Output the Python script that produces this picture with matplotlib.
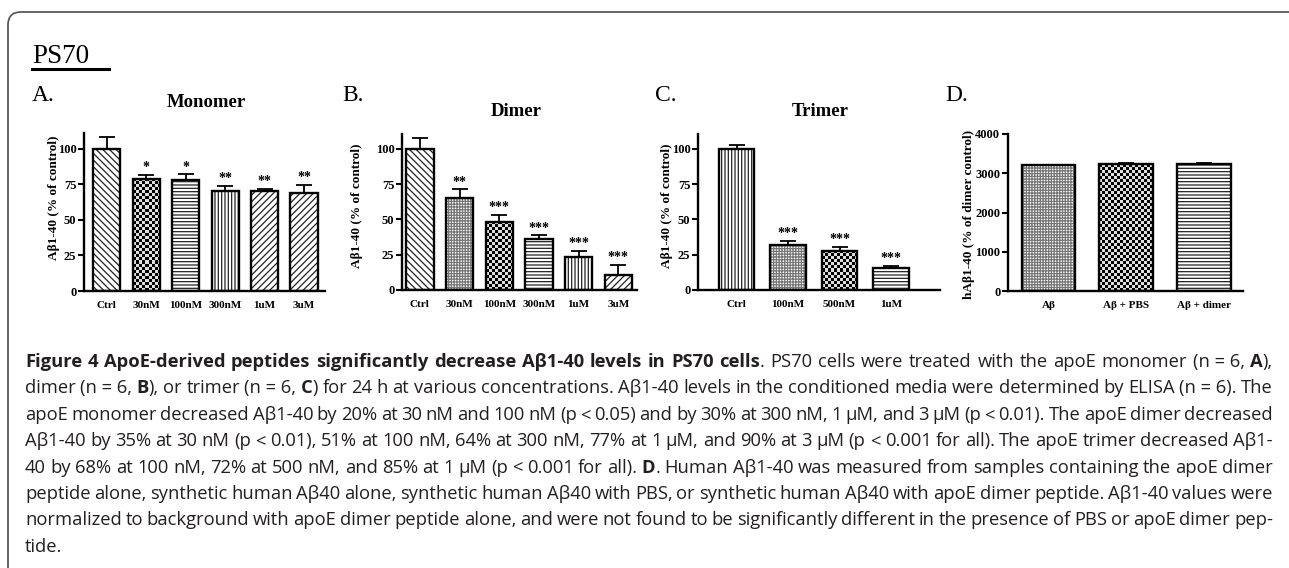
import numpy as np
import matplotlib
matplotlib.use("Agg")
import matplotlib.pyplot as plt
from matplotlib.patches import FancyBboxPatch
from matplotlib.lines import Line2D
from matplotlib.transforms import IdentityTransform

plt.rcParams["font.family"] = "Liberation Serif"
plt.rcParams["font.weight"] = "bold"
plt.rcParams["hatch.linewidth"] = 0.9

# ---- data ----
mono_labels = ["Ctrl", "30nM", "100nM", "300nM", "1uM", "3uM"]
mono_vals = [100, 79, 78, 70, 70, 69]
mono_err = [8, 2.5, 4, 4, 2, 5.5]
mono_stars = ["", "*", "*", "**", "**", "**"]

dimer_labels = ["Ctrl", "30nM", "100nM", "300nM", "1uM", "3uM"]
dimer_vals = [100, 65, 48.5, 36, 23.5, 10.5]
dimer_err = [7.8, 6.4, 4.7, 2.8, 4.2, 7.1]
dimer_stars = ["", "**", "***", "***", "***", "***"]

trimer_labels = ["Ctrl", "100nM", "500nM", "1uM"]
trimer_vals = [100, 32, 28, 15.5]
trimer_err = [3, 3, 2.8, 1.6]
trimer_stars = ["", "***", "***", "***"]

ctrl_labels = ["A\u03b2", "A\u03b2 + PBS", "A\u03b2 + dimer"]
ctrl_vals = [3200, 3230, 3240]
ctrl_err = [10, 20, 10]

W, H = 1289, 568
fig = plt.figure(figsize=(W / 100, H / 100), dpi=100)


def fx(x):
    return x / W


def fy(y):
    return 1 - y / H


def px_axes(l, r, t, b):
    return fig.add_axes([l / W, 1 - b / H, (r - l) / W, (b - t) / H])


# hatch styles: (hatch, colour); "chk" is drawn as a checker texture
PAT = {
    "back": ("\\\\\\\\\\", "#222222"),
    "fwd": ("/////", "#222222"),
    "hor": ("-----", "#222222"),
    "ver": ("|||||", "#222222"),
    "grid": ("++++++", "#777777"),
}
BW = 0.69


def checker_fill(ax, xi, v, cell=3.0):
    p0 = ax.transData.transform((xi - BW / 2, 0))
    p1 = ax.transData.transform((xi + BW / 2, v))
    nx = max(1, int(round((p1[0] - p0[0]) / cell)))
    ny = max(1, int(round((p1[1] - p0[1]) / cell)))
    arr = np.add.outer(np.arange(ny), np.arange(nx)) % 2
    ax.imshow(arr, extent=[xi - BW / 2, xi + BW / 2, 0, v], cmap="gray",
              vmin=0, vmax=1.15, interpolation="nearest", aspect="auto",
              zorder=2)


def panel(rect, labels, vals, errs, stars, pats, xlim, ylim, yticks):
    ax = px_axes(*rect)
    ax.set_xlim(*xlim)
    ax.set_ylim(*ylim)
    x = np.arange(len(vals))
    for xi, v, p in zip(x, vals, pats):
        if p == "chk":
            checker_fill(ax, xi, v)
        else:
            h, c = PAT[p]
            ax.bar(xi, v, width=BW, color="white", hatch=h, edgecolor=c,
                   linewidth=0, zorder=2)
    ax.bar(x, vals, width=BW, fill=False, edgecolor="black",
           linewidth=1.7, zorder=3)
    ax.errorbar(x, vals, yerr=[np.zeros(len(vals)), errs], fmt="none",
                ecolor="black", elinewidth=1.3, capsize=6, capthick=1.3,
                zorder=1)
    if stars is not None:
        for xi, v, e, s in zip(x, vals, errs, stars):
            if s:
                ax.annotate(s, (xi, v + e), xytext=(0, 0.5),
                            textcoords="offset points", ha="center",
                            va="bottom", fontsize=10)
    ax.set_xlim(*xlim)
    ax.set_ylim(*ylim)
    ax.set_yticks(yticks)
    ax.set_xticks(x)
    ax.set_xticklabels(labels)
    for s in ["top", "right"]:
        ax.spines[s].set_visible(False)
    for s in ["left", "bottom"]:
        ax.spines[s].set_linewidth(1.7)
    ax.tick_params(axis="y", direction="out", length=4, width=1.5,
                   pad=1.5, labelsize=9)
    ax.tick_params(axis="x", length=0, pad=7, labelsize=8)
    ax.set_facecolor("none")
    return ax


panel((84, 325, 133, 291), mono_labels, mono_vals, mono_err, mono_stars,
      ["back", "chk", "hor", "ver", "fwd", "fwd"],
      (-0.58, 5.53), (0, 111), [0, 25, 50, 75, 100])
panel((402, 637, 134, 290), dimer_labels, dimer_vals, dimer_err, dimer_stars,
      ["back", "grid", "chk", "hor", "ver", "fwd"],
      (-0.45, 5.47), (0, 110.6), [0, 25, 50, 75, 100])
panel((698, 940, 134, 290), trimer_labels, trimer_vals, trimer_err,
      trimer_stars, ["ver", "grid", "chk", "hor"],
      (-0.75, 3.95), (0, 110.6), [0, 25, 50, 75, 100])
panel((1008, 1243, 134, 291), ctrl_labels, ctrl_vals, ctrl_err, None,
      ["grid", "chk", "hor"],
      (-0.52, 2.5), (0, 4000), [0, 1000, 2000, 3000, 4000])

# titles, panel letters, y labels
for txt, x, y in [("Monomer", 206, 107), ("Dimer", 516, 116),
                  ("Trimer", 820, 116)]:
    fig.text(fx(x), fy(y), txt, ha="center", va="baseline", fontsize=13.5)
for txt, x in [("A.", 32), ("B.", 342), ("C.", 655), ("D.", 945)]:
    fig.text(fx(x), fy(101), txt, ha="left", va="baseline", fontsize=17,
             weight="normal")
for txt, x, y in [("A\u03b21-40 (% of control)", 54, 198),
                  ("A\u03b21-40 (% of control)", 357, 206),
                  ("A\u03b21-40 (% of control)", 667, 206),
                  ("hA\u03b21-40 (% of dimer control)", 969, 214)]:
    fig.text(fx(x), fy(y), txt, ha="center", va="center", rotation=90,
             fontsize=9.5)

fig.text(fx(32), fy(63), "PS70", ha="left", va="baseline", fontsize=19.5,
         weight="normal")
fig.add_artist(Line2D([fx(32), fx(109)], [fy(69), fy(69)],
                      transform=fig.transFigure, lw=2.2, color="black"))

# rounded frame (right and bottom sides fall outside the image)
fig.add_artist(FancyBboxPatch((8, -30), 1302 - 8, H - 12 + 30,
                              boxstyle="round,pad=0,rounding_size=13",
                              transform=IdentityTransform(), fill=False,
                              edgecolor="#5a5a5a", linewidth=1.3))

# caption, justified
NB = "\u00a0"
cap_lines = [
    [("Figure 4 ApoE-derived peptides significantly decrease A\u03b21-40 levels in PS70 cells", True),
     (". PS70 cells were treated with the apoE monomer (n" + NB + "=" + NB + "6, ", False),
     ("A", True), ("),", False)],
    [("dimer (n" + NB + "=" + NB + "6, ", False), ("B", True),
     ("), or trimer (n" + NB + "=" + NB + "6, ", False), ("C", True),
     (") for 24 h at various concentrations. A\u03b21-40 levels in the conditioned media were determined by ELISA (n" + NB + "=" + NB + "6). The", False)],
    [("apoE monomer decreased A\u03b21-40 by 20% at 30 nM and 100 nM (p < 0.05) and by 30% at 300 nM, 1 \u03bcM, and 3 \u03bcM (p < 0.01). The apoE dimer decreased", False)],
    [("A\u03b21-40 by 35% at 30 nM (p < 0.01), 51% at 100 nM, 64% at 300 nM, 77% at 1 \u03bcM, and 90% at 3 \u03bcM (p < 0.001 for all). The apoE trimer decreased A\u03b21-", False)],
    [("40 by 68% at 100 nM, 72% at 500 nM, and 85% at 1 \u03bcM (p < 0.001 for all). ", False),
     ("D", True),
     (". Human A\u03b21-40 was measured from samples containing the apoE dimer", False)],
    [("peptide alone, synthetic human A\u03b240 alone, synthetic human A\u03b240 with PBS, or synthetic human A\u03b240 with apoE dimer peptide. A\u03b21-40 values were", False)],
    [("normalized to background with apoE dimer peptide alone, and were not found to be significantly different in the presence of PBS or apoE dimer pep-", False)],
    [("tide.", False)],
]

CAP_FS = 13.2
CAP_FONT = "Open Sans"
renderer = fig.canvas.get_renderer()


def measure(s, bold):
    t = fig.text(0, 0, s, fontsize=CAP_FS, family=CAP_FONT,
                 weight="bold" if bold else "normal")
    w = t.get_window_extent(renderer).width
    t.remove()
    return w


space = measure("a a", False) - measure("aa", False)


def words_of(segs):
    words = [[]]
    for txt, bold in segs:
        parts = txt.split(" ")
        for i, p in enumerate(parts):
            if i > 0:
                words.append([])
            if p:
                words[-1].append((p, bold))
    return [w for w in words if w]


x0, x1 = 25, 1273
for i, segs in enumerate(cap_lines):
    words = words_of(segs)
    runs_w = [[measure(p, b) for p, b in w] for w in words]
    total = sum(sum(r) for r in runs_w)
    if i == len(cap_lines) - 1 or len(words) < 2:
        gap = space
    else:
        gap = max((x1 - x0 - total) / (len(words) - 1), space * 0.3)
    y = 367 + 26.4 * i
    x = x0
    for w, rw in zip(words, runs_w):
        for (p, b), pw in zip(w, rw):
            fig.text(fx(x), fy(y), p, fontsize=CAP_FS, family=CAP_FONT,
                     weight="bold" if b else "normal", va="baseline",
                     ha="left", color="#231f20")
            x += pw
        x += gap

fig.savefig("out.png", dpi=100)
